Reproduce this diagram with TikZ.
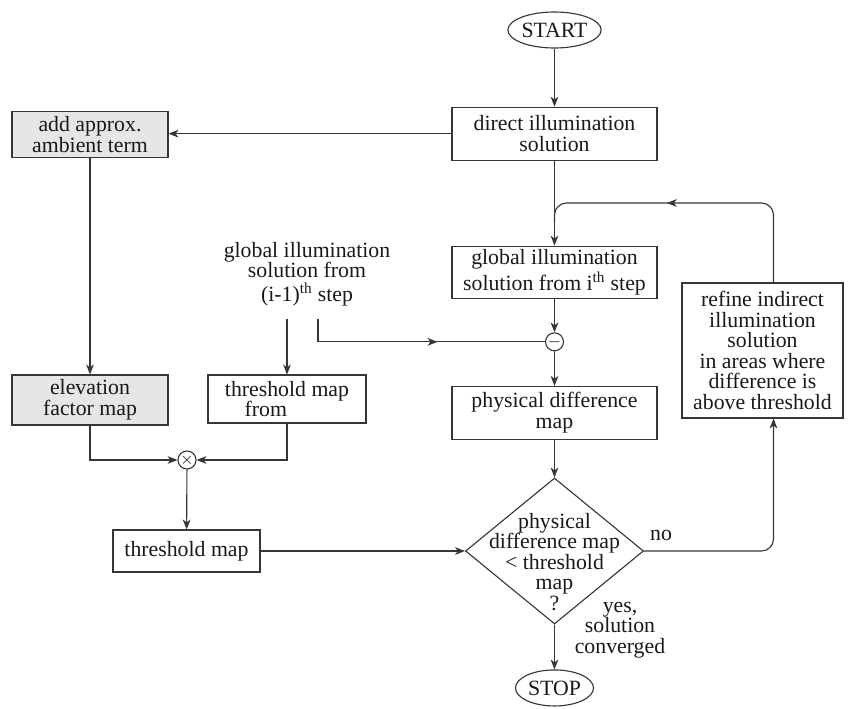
\documentclass[tikz,border=0pt]{standalone}
\usepackage{tikz}
\usepackage{fontspec}
\setmainfont{Liberation Serif}
\usetikzlibrary{positioning, shapes.geometric, arrows.meta, decorations.markings}

\definecolor{linegray}{HTML}{363636}
\definecolor{boxgray}{HTML}{E6E6E8}

\tikzset{
	tip/.tip={Stealth[length=7pt, width=5.5pt, inset=2pt]},
	flow/.style={draw=linegray, line width=0.8pt},
	arr/.style={flow, -tip},
	midarrow/.style={flow, postaction={decorate, decoration={markings, mark=at position #1 with {\arrow{tip}}}}},
	txt/.style={align=center, text=black!90, font=\fontsize{15.5}{14.6}\selectfont},
	block/.style={txt, draw=linegray, line width=0.8pt, inner sep=2pt},
	shaded/.style={block, fill=boxgray},
	terminal/.style={block, ellipse, minimum width=1.95cm, minimum height=0.9cm, inner sep=0pt},
	junction/.style={draw=linegray, line width=0.8pt, circle, minimum size=0.45cm, inner sep=0pt, font=\large},
}

\begin{document}
\begin{tikzpicture}[x=0.025cm, y=-0.025cm]
	\useasboundingbox (0,0) rectangle (850,709);

	% main column
	\node[terminal] (start) at (554.5,30) {START};
	\node[block, minimum width=5.125cm, minimum height=1.325cm, below=1.45cm of start] (direct) {direct illumination\\solution};
	\node[block, minimum width=5.125cm, minimum height=1.3cm, below=2.12cm of direct] (global) {global illumination\\[1pt]solution from i\textsuperscript{th} step};
	\node[junction, below=0.84cm of global] (minus) {$-$};
	\node[block, minimum width=5.125cm, minimum height=1.325cm, below=0.86cm of minus] (phys) {physical difference\\map};
	\node[draw=linegray, line width=0.8pt, diamond, minimum width=4.45cm, minimum height=3.65cm, inner sep=0pt] (dec) at (554.5,551) {};
	\node[txt] (dectext) at ([yshift=-0.275cm]dec.center) {physical\\difference map\\< threshold\\map\\?};
	\node[terminal, below=1.12cm of dec] (stop) {STOP};

	% left side
	\node[shaded, minimum width=3.9cm, minimum height=1.15cm] (add) at (90,134.5) {add approx.\\ambient term};
	\node[shaded, minimum width=3.9cm, minimum height=1.25cm] (elev) at (90,400) {elevation\\factor map};
	\node[txt] (prev) at (307,274) {global illumination\\solution from\\[2pt](i-1)\textsuperscript{th} step};
	\coordinate (prevbase) at ([yshift=-0.2cm]prev.south);
	\node[block, minimum width=3.95cm, minimum height=1.2cm] (thrfrom) at (287,399) {threshold map\\from\hphantom{from}};
	\node[junction] (times) at (187,460) {$\times$};
	\node[block, minimum width=3.675cm, minimum height=1.05cm] (thrmap) at (186.5,551) {threshold map};

	% right side
	\node[block, minimum width=4.025cm, minimum height=3.375cm] (refine) at (762.5,350.5) {refine indirect\\illumination\\solution\\in areas where\\difference is\\above threshold};
	\coordinate (looptop) at (554.5,203);
	\node[txt] (no) at (661,535) {no};
	\node[txt] (yes) at (620,630) {yes,\\solution\\converged};

	% connectors
	\draw[arr] (start) -- (direct);
	\draw[arr] (direct.west) -- (direct.west -| add.east);
	\draw[arr] (add) -- (elev);
	\draw[arr] (direct) -- (global);
	\draw[midarrow=0.59, rounded corners=0.3cm] ([xshift=0.275cm]refine.north) |- (looptop) -- ([yshift=0.6cm]global.north);
	\draw[arr] (global) -- (minus);
	\draw[arr] (thrfrom.north |- prevbase) -- (thrfrom.north);
	\draw[midarrow=0.57] ([xshift=0.275cm]prevbase) |- (minus.west);
	\draw[arr] (minus) -- (phys);
	\draw[arr] (phys) -- (dec);
	\draw[arr] (dec.south) -- (stop.north);
	\draw[arr, rounded corners=0.3cm] (dec.east) -| ([xshift=0.275cm]refine.south);
	\draw[arr] (elev.south) |- (times.west);
	\draw[arr] (thrfrom.south) |- (times.east);
	\draw[arr] (times) -- (thrmap);
	\draw[arr] (thrmap.east) -- (dec.west);
\end{tikzpicture}
\end{document}
